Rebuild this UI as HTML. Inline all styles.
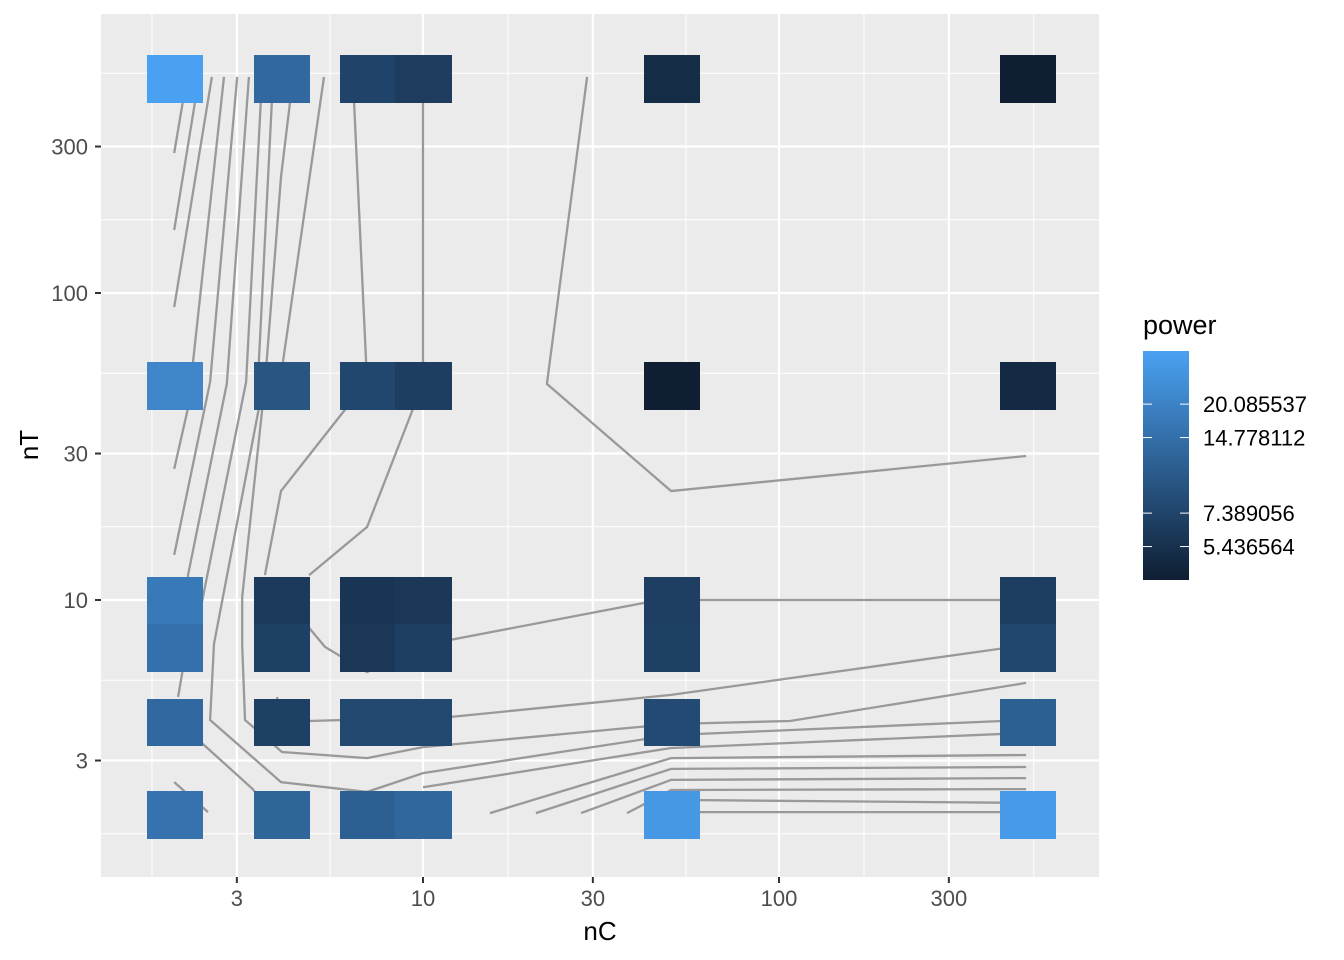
<!DOCTYPE html>
<html><head><meta charset="utf-8"><style>
html,body{margin:0;padding:0;background:#fff;}
svg{display:block;font-family:"Liberation Sans",Arial,sans-serif;}
</style></head><body>
<svg id="chart" width="1344" height="960" viewBox="0 0 1344 960">
<rect x="101" y="14" width="998" height="863" fill="#EBEBEB"/>
<g id="grid"></g>
<g id="contours"></g>
<g id="tiles" shape-rendering="crispEdges"></g>
<g id="axes"></g>
<text x="600" y="940" font-size="26" text-anchor="middle" fill="#000">nC</text>
<text x="38" y="445" font-size="26" text-anchor="middle" fill="#000" transform="rotate(-90 38 445)">nT</text>
<g id="legend">
<text x="1143" y="334" font-size="27" fill="#000">power</text>
<defs><linearGradient id="grad" x1="0" y1="1" x2="0" y2="0"><stop offset="0" stop-color="#0f1e32"/><stop offset="1" stop-color="#4aa1f2"/></linearGradient></defs>
<rect x="1143" y="351" width="46" height="229" fill="url(#grad)"/>
</g>
</svg>
<script>
const nCValues=[2,4,7,10,50,500];
const nTValues=[2,4,7,10,50,500];
// power by row (nT) then column (nC)
const powerNT2=[15.5,12.4,11.4,12.8,28,29];
const powerNT4=[13.2,6.9,7.8,7.8,8.1,11.4];
const powerNT7=[15.0,6.9,6.0,6.8,6.9,7.7];
const powerNT10=[17.4,6.3,5.8,6.1,6.8,6.6];
const powerNT50=[21,9.6,7.7,6.7,4.0,4.8];
const powerNT500=[32.7,13.2,7.3,6.5,5.0,4.0];
const powerRows=[powerNT2,powerNT4,powerNT7,powerNT10,powerNT50,powerNT500];
const powerLimits=[4.0,32.7];
const legendBreaks=[20.085537,14.778112,7.389056,5.436564];
const xTicks=[3,10,30,100,300];
const yTicks=[3,10,30,100,300];
// contour polylines in log10 units [log10 nC, log10 nT]
const contour1=[[0.301,2.456],[0.337,2.704]];
const contour2=[[0.301,2.205],[0.371,2.704]];
const contour3=[[0.301,1.954],[0.407,2.704]];
const contour4=[[0.301,1.427],[0.340,1.625],[0.441,2.704]];
const contour5=[[0.301,1.147],[0.402,1.710],[0.478,2.704]];
const contour6=[[0.312,0.684],[0.326,0.779],[0.340,1.081],[0.449,1.704],[0.511,2.704]];
const contour7=[[0.379,0.534],[0.522,0.384],[0.570,0.309]];
const contour8=[[0.379,0.993],[0.503,1.710],[0.548,2.704]];
const contour9=[[2.694,0.609],[1.697,0.560],[1.0,0.436],[0.843,0.375],[0.601,0.407],[0.402,0.609],[0.413,0.857],[0.539,1.625],[0.539,1.779],[0.579,2.704]];
const contour10=[[0.635,2.704],[0.601,2.378],[0.556,1.704],[0.492,1.010],[0.492,0.853],[0.500,0.609],[0.604,0.505],[0.843,0.485],[1.0,0.521],[1.697,0.596],[2.031,0.606],[2.694,0.730]];
const contour11=[[0.722,2.704],[0.607,1.779],[0.601,1.625]];
const contour12=[[0.590,0.684],[0.601,0.609],[0.680,0.606],[1.076,0.619],[1.697,0.691],[2.694,0.853]];
const contour13=[[0.789,1.632],[0.601,1.355],[0.556,1.081]];
const contour14=[[0.975,1.632],[0.843,1.238],[0.680,1.081]];
const contour15=[[0.680,0.909],[0.725,0.847],[0.843,0.765],[1.0,0.853],[1.618,0.990],[1.697,1.0],[2.694,1.0]];
const contour16=[[0.803,2.704],[0.843,1.704]];
const contour17=[[1.0,2.704],[1.0,1.704]];
const contour18=[[1.461,2.704],[1.348,1.704],[1.697,1.355],[2.694,1.469]];
const contour19=[[1.0,0.390],[1.697,0.518],[2.694,0.567]];
const contour20=[[1.188,0.306],[1.697,0.485],[2.694,0.495]];
const contour21=[[1.317,0.306],[1.697,0.450],[2.694,0.456]];
const contour22=[[1.444,0.306],[1.697,0.414],[2.694,0.420]];
const contour23=[[1.573,0.306],[1.697,0.381],[2.694,0.384]];
const contour24=[[1.697,0.349],[2.694,0.339]];
const contour25=[[1.697,0.309],[2.694,0.309]];
const contour26=[[0.301,0.407],[0.396,0.309]];
const contours=[contour1,contour2,contour3,contour4,contour5,contour6,contour7,contour8,contour9,contour10,contour11,contour12,contour13,contour14,contour15,contour16,contour17,contour18,contour19,contour20,contour21,contour22,contour23,contour24,contour25,contour26];

const NS='http://www.w3.org/2000/svg';
const X0=423, XS=356, Y0=600, YS=307;
function xl(l){return X0+XS*(l-1);}
function yl(l){return Y0-YS*(l-1);}
function xScale(v){return xl(Math.log10(v));}
function yScale(v){return yl(Math.log10(v));}
const LB=580, LT=351;
function legendY(v){const a=Math.log(powerLimits[0]),b=Math.log(powerLimits[1]);return LB-(Math.log(v)-a)/(b-a)*(LB-LT);}
function colorFor(v){
  const a=Math.log(powerLimits[0]),b=Math.log(powerLimits[1]);
  let t=(Math.log(v)-a)/(b-a);t=Math.max(0,Math.min(1,t));
  const lo=[15,30,50],hi=[74,161,242];
  return 'rgb('+lo.map((c,i)=>Math.round(c+(hi[i]-c)*t)).join(',')+')';
}
function mk(tag,attrs,parent){const e=document.createElementNS(NS,tag);for(const k in attrs)e.setAttribute(k,attrs[k]);parent.appendChild(e);return e;}

const grid=document.getElementById('grid');
const majL=xTicks.map(v=>Math.log10(v));
const minorX=[];
for(let i=-1;i<majL.length;i++){
  const a=i<0?0:majL[i], b=i+1<majL.length?majL[i+1]:majL[majL.length-1]+(majL[majL.length-1]-majL[majL.length-2]);
  minorX.push((a+b)/2);
}
minorX.forEach(l=>{const x=xl(l);if(x>101&&x<1099){const e=mk('line',{x1:x,x2:x,y1:14,y2:877,stroke:'#fff','stroke-width':1},grid);

}});
minorX.forEach(l=>{const y=yl(l);if(y>14&&y<877){const e=mk('line',{x1:101,x2:1099,y1:y,y2:y,stroke:'#fff','stroke-width':1},grid);

}});
const axes=document.getElementById('axes');
xTicks.forEach(v=>{const x=xScale(v);
  const g=mk('line',{x1:x,x2:x,y1:14,y2:877,stroke:'#fff','stroke-width':2.2},grid);
  
  
  const t=mk('line',{x1:x,x2:x,y1:877,y2:883,stroke:'#333','stroke-width':2},axes);
  
  
  const l=mk('text',{x:x,y:906,'font-size':22,'text-anchor':'middle',fill:'#4d4d4d'},axes);l.textContent=v;
  
  
});
yTicks.forEach(v=>{const y=yScale(v);
  const g=mk('line',{x1:101,x2:1099,y1:y,y2:y,stroke:'#fff','stroke-width':2.2},grid);
  
  
  const t=mk('line',{x1:95,x2:101,y1:y,y2:y,stroke:'#333','stroke-width':2},axes);
  
  
  const l=mk('text',{x:88,y:y+8,'font-size':22,'text-anchor':'end',fill:'#4d4d4d'},axes);l.textContent=v;
  
  
});

const cg=document.getElementById('contours');
contours.forEach(c=>{
  const p=mk('polyline',{points:c.map(q=>xl(q[0]).toFixed(1)+','+yl(q[1]).toFixed(1)).join(' '),fill:'none',stroke:'#999','stroke-width':2.3},cg);
  
  
});

const tg=document.getElementById('tiles');
const tileW=0.1545, tileH=0.1505;
powerRows.forEach((row,ri)=>{
  row.forEach((v,ci)=>{
    const lx=Math.log10(nCValues[ci]), ly=Math.log10(nTValues[ri]);
    const x1=Math.round(xl(lx-tileW/2)), x2=Math.round(xl(lx+tileW/2)), y1=Math.round(yl(ly+tileH/2)), y2=Math.round(yl(ly-tileH/2))+1;
    const r=mk('rect',{x:x1,y:y1,width:x2-x1+1,height:y2-y1,fill:colorFor(v)},tg);
    
    
  });
});

const lg=document.getElementById('legend');
legendBreaks.forEach(v=>{const y=legendY(v);
  const a=mk('line',{x1:1143,x2:1152,y1:y,y2:y,stroke:'#fff','stroke-width':1},lg);
  
  
  const b=mk('line',{x1:1180,x2:1189,y1:y,y2:y,stroke:'#fff','stroke-width':1},lg);
  
  
  const t=mk('text',{x:1203,y:y+8,'font-size':22,fill:'#000'},lg);t.textContent=v.toFixed(6);
  
  
});
</script>
</body></html>
